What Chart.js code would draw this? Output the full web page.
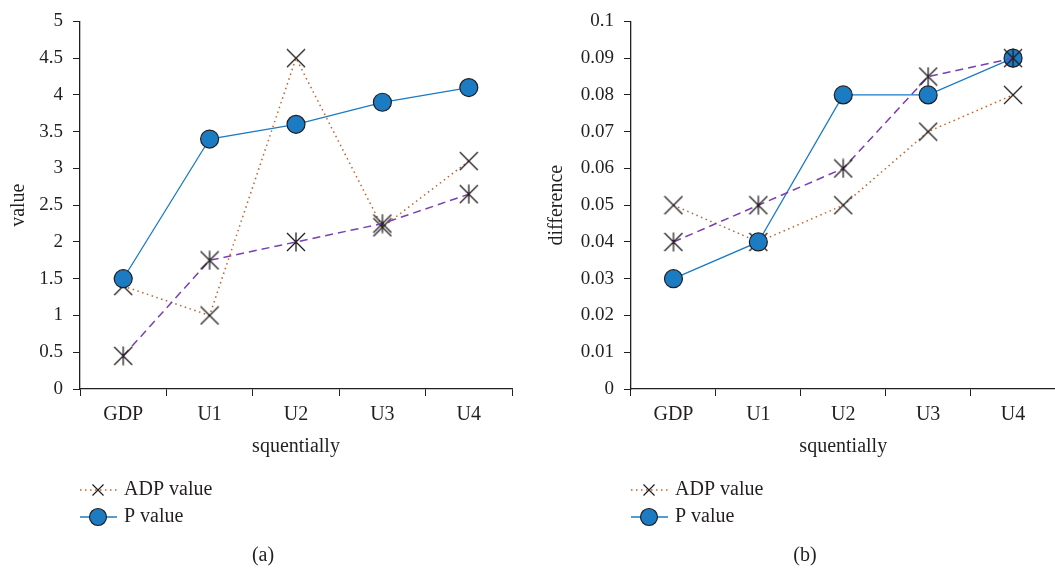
<!DOCTYPE html>
<html>
<head>
<meta charset="utf-8">
<script src="https://cdn.jsdelivr.net/npm/chart.js@4/dist/chart.umd.min.js"></script>
<style>
  html, body { margin: 0; padding: 0; background: #fff; }
  #wrap { position: relative; width: 1055px; height: 571px; overflow: hidden; }
  canvas { position: absolute; top: 0; }
  #chartA { left: 0; }
  #chartB { left: 527px; }
</style>
</head>
<body>
<div id="wrap">
  <canvas id="chartA" width="527" height="571"></canvas>
  <canvas id="chartB" width="540" height="571"></canvas>
</div>
<script>
/* ---------- Data ---------- */
const categories = ['GDP', 'U1', 'U2', 'U3', 'U4'];
const seriesNames = ['ADP value', 'P value'];

// (a) value
const adpA   = [1.4, 1.0, 4.5, 2.2, 3.1];
const pA     = [1.5, 3.4, 3.6, 3.9, 4.1];
const thirdA = [0.45, 1.75, 2.0, 2.25, 2.65];

// (b) difference
const adpB   = [0.05, 0.04, 0.05, 0.07, 0.08];
const pB     = [0.03, 0.04, 0.08, 0.08, 0.09];
const thirdB = [0.04, 0.05, 0.06, 0.085, 0.09];

const yTicksA = [0, 5, 0.5];     // min, max, step
const yTicksB = [0, 0.1, 0.01];

/* ---------- Styles ---------- */
const INK    = '#231f20';
const BLUE   = '#1b7bc3';
const BROWN  = '#c0622c';
const PURPLE = '#7b3fb3';
const FONT   = "'Liberation Serif', 'Times New Roman', serif";

// marker images: 'x' and asterisk (x + vertical bar)
function makeMarker(kind, size){
  const c = document.createElement('canvas');
  c.width = size + 2; c.height = size + 2;
  const g = c.getContext('2d');
  const a = 1, b = size + 1;
  g.strokeStyle = INK; g.lineWidth = 1.3;
  g.beginPath();
  g.moveTo(a, a); g.lineTo(b, b);
  g.moveTo(b, a); g.lineTo(a, b);
  if(kind === 'star'){
    const m = (size + 2) / 2;
    g.moveTo(m, a - 0.5); g.lineTo(m, b + 0.5);
  }
  g.stroke();
  return c;
}
const xMark    = makeMarker('x', 18);
const starMark = makeMarker('star', 18);

/* ---------- Legend + caption below the plot ---------- */
const legendBelow = {
  id: 'legendBelow',
  afterDraw(chart, args, opts){
    const ctx = chart.ctx;
    const left = chart.chartArea.left;
    const rows = [490, 517];
    ctx.save();
    chart.data.datasets.slice(0, 2).forEach((ds, i) => {
      const y = rows[i];
      ctx.strokeStyle = ds.borderColor;
      ctx.lineWidth = ds.borderWidth;
      ctx.setLineDash(ds.borderDash || []);
      ctx.beginPath(); ctx.moveTo(left, y); ctx.lineTo(left + 37, y); ctx.stroke();
      ctx.setLineDash([]);
      const mx = left + 18;
      if(i === 0){
        ctx.strokeStyle = INK; ctx.lineWidth = 1.2;
        ctx.beginPath();
        ctx.moveTo(mx - 5.5, y - 5.5); ctx.lineTo(mx + 5.5, y + 5.5);
        ctx.moveTo(mx + 5.5, y - 5.5); ctx.lineTo(mx - 5.5, y + 5.5);
        ctx.stroke();
      } else {
        ctx.fillStyle = BLUE; ctx.strokeStyle = INK; ctx.lineWidth = 1.2;
        ctx.beginPath(); ctx.arc(mx, y, 8.5, 0, Math.PI * 2); ctx.fill(); ctx.stroke();
      }
      ctx.fillStyle = INK;
      ctx.font = '20px ' + FONT;
      ctx.textBaseline = 'middle';
      ctx.textAlign = 'left';
      ctx.fillText(ds.label, left + 44, y);
    });
    ctx.textAlign = 'center';
    ctx.fillText(opts.caption, opts.captionX, 556);
    ctx.restore();
  }
};

function makeChart(id, adp, p, third, yt, yTitle, yWidth, titlePad, rightPad, caption, captionX){
  return new Chart(document.getElementById(id), {
    type: 'line',
    data: {
      labels: categories,
      datasets: [
        { label: seriesNames[0], data: adp, order: 2,
          borderColor: BROWN, borderWidth: 1.5, borderDash: [1.5, 3.5],
          pointStyle: xMark, pointRadius: 10 },
        { label: seriesNames[1], data: p, order: 1,
          borderColor: BLUE, borderWidth: 1.3,
          pointStyle: 'circle', pointRadius: 9, pointBackgroundColor: BLUE,
          pointBorderColor: INK, pointBorderWidth: 1.2 },
        { label: 'third', data: third, order: 0,
          borderColor: PURPLE, borderWidth: 1.5, borderDash: [8, 5],
          pointStyle: starMark, pointRadius: 10 }
      ]
    },
    options: {
      responsive: false,
      animation: false,
      devicePixelRatio: 1,
      layout: { padding: { left: 0, top: 20, right: rightPad, bottom: 112 } },
      plugins: {
        legend: { display: false },
        tooltip: { enabled: false },
        legendBelow: { caption: caption, captionX: captionX }
      },
      scales: {
        x: {
          offset: true,
          grid: { offset: true, drawOnChartArea: false, tickLength: 7, color: INK, lineWidth: 1 },
          border: { color: INK, width: 1.3 },
          ticks: { color: INK, padding: 7, maxRotation: 0, font: { family: FONT, size: 20 } },
          title: { display: true, text: 'squentially', color: INK, padding: { top: 0, bottom: 0 },
                   font: { family: FONT, size: 20 } },
          afterFit(s){ s.height = 70; }
        },
        y: {
          min: yt[0], max: yt[1],
          grid: { drawOnChartArea: false, tickLength: 7, color: INK, lineWidth: 1 },
          border: { color: INK, width: 1.3 },
          ticks: { stepSize: yt[2], color: INK, padding: 10, font: { family: FONT, size: 19 },
                   callback: v => String(Number(v.toFixed(3))) },
          title: { display: true, text: yTitle, color: INK, padding: { top: titlePad, bottom: 0 },
                   font: { family: FONT, size: 20 } },
          afterFit(s){ s.width = yWidth; }
        }
      }
    },
    plugins: [legendBelow]
  });
}

makeChart('chartA', adpA, pA, thirdA, yTicksA, 'value', 80, 7, 15, '(a)', 263);
makeChart('chartB', adpB, pB, thirdB, yTicksB, 'difference', 104, 18, 0, '(b)', 278);
</script>
</body>
</html>
